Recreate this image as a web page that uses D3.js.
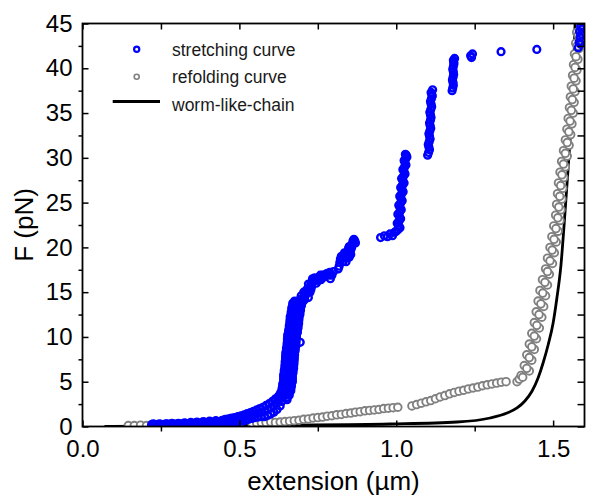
<!DOCTYPE html>
<html>
<head>
<meta charset="utf-8">
<script src="https://cdn.jsdelivr.net/npm/d3@7"></script>
<style>
  html, body { margin: 0; padding: 0; background: #fff; }
  svg { display: block; font-family: "Liberation Sans", Arial, sans-serif; }
</style>
</head>
<body>
<svg id="chart" width="589" height="500"></svg>
<script>
// ---------------- data (extension in µm, force in pN) ----------------
const xTickLabels = ["0.0", "0.5", "1.0", "1.5"];
const xMajorTicks = [0, 0.5, 1.0, 1.5];
const xMinorTicks = [0.25, 0.75, 1.25];
const yMajorTicks = [0, 5, 10, 15, 20, 25, 30, 35, 40, 45];
const yMinorTicks = [2.5, 7.5, 12.5, 17.5, 22.5, 27.5, 32.5, 37.5, 42.5];
const seriesNames = ["stretching curve", "refolding curve", "worm-like-chain"];

// worm-like-chain model curve
const wlcCurve = [
  [0.07, 0.0], [0.374, 0.08], [0.661, 0.15], [0.98, 0.28], [1.194, 0.5], [1.299, 0.95],
  [1.353, 1.5], [1.385, 2.07], [1.41, 2.85], [1.433, 3.96], [1.452, 5.41], [1.468, 7.09],
  [1.484, 9.1], [1.5, 11.56], [1.512, 14.35], [1.525, 18.03], [1.535, 22.5], [1.544, 26.96],
  [1.554, 32.0], [1.563, 37.6], [1.570, 45.0]
];

// refolding curve (grey open circles)
const refoldingCurve = [
  [0.146,0.1],[0.165,0.1],[0.185,0.15],[0.204,0.1],[0.223,0.15],[0.26,0.15],[0.30,0.2],[0.34,0.2],
  [0.38,0.25],[0.42,0.25],[0.46,0.3],[0.50,0.3],[0.54,0.35],[0.555,0.4],[0.57,0.45],[0.585,0.45],
  [0.60,0.5],[0.615,0.45],[0.63,0.5],[0.645,0.55],[0.66,0.6],[0.675,0.65],[0.69,0.7],[0.705,0.8],
  [0.72,0.85],[0.735,0.95],[0.75,1.0],[0.765,1.05],[0.78,1.15],[0.795,1.2],[0.81,1.3],[0.825,1.35],
  [0.84,1.45],[0.855,1.5],[0.87,1.6],[0.885,1.65],[0.90,1.75],[0.915,1.8],[0.93,1.85],[0.945,1.9],
  [0.96,2.0],[0.975,2.05],[0.99,2.1],[1.005,2.15],[1.05,2.3],[1.065,2.45],[1.08,2.6],[1.095,2.75],
  [1.11,2.9],[1.125,3.1],[1.14,3.3],[1.155,3.45],[1.17,3.65],[1.185,3.8],[1.20,3.95],[1.215,4.05],
  [1.23,4.2],[1.245,4.3],[1.26,4.4],[1.275,4.55],[1.29,4.65],[1.305,4.75],[1.32,4.85],[1.335,4.95],
  [1.35,5.0],[1.385,5.0],[1.392,5.3],[1.398,5.7],
  [1.403,5.5],[1.424,6.2],[1.408,6.8],[1.432,7.4],[1.416,8.0],[1.440,8.6],[1.424,9.2],[1.447,9.8],
  [1.432,10.4],[1.456,11.0],[1.440,11.6],[1.464,12.2],[1.446,12.8],[1.470,13.4],[1.452,14.0],
  [1.476,14.6],[1.458,15.2],[1.482,15.8],[1.466,16.4],[1.488,17.0],[1.476,17.6],[1.498,18.2],
  [1.482,18.8],[1.504,19.4],[1.490,20.0],[1.510,20.6],[1.496,21.2],[1.516,21.8],[1.502,22.4],
  [1.522,23.0],[1.508,23.6],[1.525,24.2],[1.511,24.8],[1.528,25.4],[1.514,26.0],[1.531,26.6],
  [1.517,27.2],[1.534,27.8],[1.522,28.4],[1.539,29.0],[1.527,29.6],[1.545,30.2],[1.533,30.8],
  [1.551,31.4],[1.539,32.0],[1.556,32.6],[1.544,33.2],[1.560,33.8],[1.548,34.4],[1.564,35.0],
  [1.552,35.6],[1.567,36.2],[1.555,36.8],[1.570,37.4],[1.558,38.0],[1.573,38.6],[1.562,39.2],
  [1.576,39.8],[1.565,40.4],[1.579,41.0],[1.568,41.6],[1.582,42.2],[1.572,42.8],[1.585,43.4],
  [1.575,44.0],[1.588,44.6],
  [1.416,6.5],[1.424,7.7],[1.432,8.9],[1.440,10.1],[1.448,11.3],[1.455,12.5],[1.461,13.7],
  [1.467,14.9],[1.474,16.1],[1.482,17.3],[1.490,18.5],[1.497,19.7],[1.503,20.9],[1.509,22.1],
  [1.515,23.3],[1.518,24.5],[1.521,25.7],[1.524,26.9],[1.528,28.1],[1.533,29.3],[1.539,30.5],
  [1.545,31.7],[1.550,32.9],[1.554,34.1],[1.558,35.3],[1.561,36.5],[1.564,37.7],[1.567,38.9],
  [1.570,40.1],[1.573,41.3],[1.577,42.5],[1.580,43.7]
];

// stretching curve (blue open circles)
const stretchingCurve = [
  // low-force tail
  [0.22,0.2],[0.23,0.25],[0.24,0.2],[0.25,0.25],[0.26,0.2],[0.27,0.3],[0.28,0.25],[0.29,0.3],
  [0.30,0.25],[0.31,0.3],[0.32,0.3],[0.33,0.35],[0.34,0.3],[0.35,0.35],[0.36,0.4],[0.37,0.35],
  [0.38,0.4],[0.39,0.45],[0.40,0.4],[0.41,0.5],[0.42,0.45],[0.43,0.55],[0.44,0.5],
  [0.225,0.3],[0.235,0.15],[0.245,0.3],[0.255,0.15],[0.265,0.3],[0.275,0.2],[0.285,0.35],
  [0.295,0.2],[0.305,0.35],[0.315,0.25],[0.325,0.4],[0.335,0.25],[0.345,0.45],[0.355,0.3],
  [0.365,0.5],[0.375,0.35],[0.385,0.55],[0.395,0.4],[0.405,0.6],[0.415,0.45],[0.425,0.65],
  [0.435,0.5],[0.445,0.7],
  [0.45,0.35],[0.46,0.4],[0.47,0.45],[0.48,0.45],[0.49,0.5],[0.50,0.55],[0.51,0.6],[0.52,0.7],
  [0.53,0.8],[0.54,0.9],[0.55,1.0],[0.56,1.05],[0.57,1.1],[0.58,1.1],[0.59,1.25],[0.60,1.4],
  [0.61,1.6],[0.62,1.9],[0.63,2.3],[0.635,2.8],
  [0.45,0.58],[0.46,0.62],[0.47,0.7],[0.48,0.72],[0.49,0.8],[0.50,0.88],[0.51,0.95],[0.52,1.08],
  [0.53,1.18],[0.54,1.3],[0.55,1.42],[0.56,1.52],[0.57,1.62],[0.58,1.72],[0.59,1.9],[0.60,2.1],
  [0.61,2.35],[0.62,2.65],
  [0.455,0.8],[0.465,0.85],[0.475,0.95],[0.485,1.0],[0.495,1.1],[0.505,1.2],[0.515,1.3],
  [0.525,1.45],[0.535,1.55],[0.545,1.7],[0.555,1.85],[0.565,2.0],[0.575,2.15],[0.585,2.35],
  [0.595,2.55],[0.605,2.8],[0.615,3.1],[0.625,3.4],
  // first steep rise
  [0.624,3.0],[0.652,3.0],[0.638,3.25],[0.631,3.5],[0.659,3.5],[0.645,3.75],
  [0.636,4.0],[0.664,4.0],[0.650,4.25],[0.638,4.5],[0.666,4.5],[0.652,4.75],
  [0.641,5.0],[0.669,5.0],[0.655,5.25],[0.641,5.5],[0.669,5.5],[0.655,5.75],
  [0.643,6.0],[0.671,6.0],[0.657,6.25],[0.645,6.5],[0.673,6.5],[0.659,6.75],
  [0.646,7.0],[0.674,7.0],[0.660,7.25],[0.647,7.5],[0.675,7.5],[0.661,7.75],
  [0.648,8.0],[0.676,8.0],[0.662,8.25],[0.650,8.5],[0.678,8.5],[0.664,8.75],
  [0.652,9.0],[0.680,9.0],[0.666,9.25],[0.653,9.5],[0.681,9.5],[0.667,9.75],
  [0.654,10.0],[0.682,10.0],[0.668,10.25],[0.657,10.5],[0.685,10.5],[0.671,10.75],
  [0.659,11.0],[0.687,11.0],[0.673,11.25],[0.661,11.5],[0.689,11.5],[0.675,11.75],
  [0.662,12.0],[0.690,12.0],[0.676,12.25],[0.665,12.5],[0.693,12.5],[0.679,12.75],
  [0.667,13.0],[0.695,13.0],[0.681,13.25],[0.670,13.5],[0.698,13.5],[0.684,13.75],
  [0.676,14.0],[0.704,14.0],[0.690,14.1],[0.694,9.4],
  [0.624,3.25],[0.652,3.25],[0.631,3.75],[0.659,3.75],[0.636,4.25],[0.664,4.25],
  [0.638,4.75],[0.666,4.75],[0.641,5.25],[0.669,5.25],[0.641,5.75],[0.669,5.75],
  [0.643,6.25],[0.671,6.25],[0.645,6.75],[0.673,6.75],[0.646,7.25],[0.674,7.25],
  [0.647,7.75],[0.675,7.75],[0.648,8.25],[0.676,8.25],[0.650,8.75],[0.678,8.75],
  [0.652,9.25],[0.680,9.25],[0.653,9.75],[0.681,9.75],[0.654,10.25],[0.682,10.25],
  [0.657,10.75],[0.685,10.75],[0.659,11.25],[0.687,11.25],[0.661,11.75],[0.689,11.75],
  [0.662,12.25],[0.690,12.25],[0.665,12.75],[0.693,12.75],[0.667,13.25],[0.695,13.25],
  [0.670,13.75],[0.698,13.75],
  // shoulder 14-21 pN
  [0.70,14.3],[0.71,14.6],[0.72,14.4],[0.705,15.0],[0.715,15.3],[0.725,15.0],[0.73,15.6],
  [0.72,15.9],[0.735,16.2],[0.745,16.0],[0.74,16.6],[0.755,16.7],[0.765,16.9],[0.775,17.0],
  [0.785,16.9],[0.79,16.5],[0.76,16.4],
  [0.697,14.6],[0.708,14.2],[0.712,14.9],[0.718,15.1],[0.722,15.5],[0.728,15.3],[0.728,16.0],
  [0.733,16.5],[0.742,16.3],[0.748,16.5],[0.752,16.3],[0.758,16.9],[0.762,16.6],[0.77,16.7],
  [0.78,17.1],[0.788,17.2],[0.795,16.9],[0.80,17.3],
  [0.815,17.6],[0.82,18.3],[0.825,19.0],[0.83,18.4],[0.835,19.4],[0.84,18.8],[0.845,19.6],
  [0.85,20.1],[0.855,19.7],[0.86,20.4],[0.865,20.9],[0.87,20.5],[0.855,19.2],[0.845,18.9],
  [0.818,17.9],[0.822,18.7],[0.828,18.8],[0.832,19.1],[0.838,19.1],[0.842,19.3],[0.848,19.9],
  [0.852,19.5],[0.858,20.0],[0.862,20.7],[0.868,20.7],[0.85,18.9],[0.84,18.4],
  // plateau ~21 pN
  [0.95,21.1],[0.962,21.3],[0.972,21.2],[0.98,21.5],[0.988,21.3],[0.995,21.7],
  // second rise 21-30 pN
  [1.0,21.8],[1.012,22.2],[1.003,22.7],[1.014,23.2],[1.005,23.7],[1.016,24.2],[1.008,24.7],
  [1.019,25.2],[1.011,25.7],[1.022,26.2],[1.014,26.7],[1.025,27.2],[1.017,27.7],[1.028,28.2],
  [1.021,28.7],[1.031,29.2],[1.025,29.7],[1.034,30.1],[1.029,30.4],
  [1.006,22.0],[1.008,22.45],[1.009,22.95],[1.010,23.45],[1.011,23.95],[1.012,24.45],
  [1.014,24.95],[1.015,25.45],[1.017,25.95],[1.018,26.45],[1.020,26.95],[1.021,27.45],
  [1.023,27.95],[1.025,28.45],[1.026,28.95],[1.028,29.45],[1.030,29.9],[1.032,30.3],
  // third rise 30-37.5 pN
  [1.100,30.3],[1.106,30.9],[1.102,31.5],[1.108,32.1],[1.104,32.7],[1.110,33.3],[1.106,33.9],
  [1.111,34.5],[1.107,35.1],[1.113,35.7],[1.109,36.3],[1.115,36.9],[1.111,37.3],[1.116,37.6],
  [1.103,30.6],[1.104,31.2],[1.105,31.8],[1.106,32.4],[1.107,33.0],[1.108,33.6],[1.109,34.2],
  [1.109,34.8],[1.110,35.4],[1.111,36.0],[1.112,36.6],[1.113,37.1],
  // fourth rise 37.5-41 pN
  [1.178,37.5],[1.182,38.1],[1.179,38.7],[1.183,39.3],[1.18,39.9],[1.184,40.5],[1.182,40.9],
  [1.186,41.1],[1.180,37.8],[1.181,38.4],[1.181,39.0],[1.182,39.6],[1.182,40.2],[1.183,40.7],
  // plateau ~42 pN
  [1.237,41.4],[1.243,41.6],[1.24,41.2],[1.334,41.85],[1.448,42.1],
  [1.580,42.3],[1.583,42.9],[1.586,43.5],[1.584,44.1],[1.588,44.7],[1.591,45.3],[1.59,43.8],
  [1.592,44.4],[1.587,42.7]
];

// ---------------- chart ----------------
const plot = { left: 82.5, right: 584.5, top: 23.5, bottom: 426.5 };
const BLUE = "#0000ff", GREY = "#808080";

const svg = d3.select("#chart");
const x = d3.scaleLinear().domain([0, 1.6]).range([plot.left, plot.right]);
const y = d3.scaleLinear().domain([0, 45]).range([plot.bottom, plot.top]);

svg.append("defs").append("clipPath").attr("id", "clip")
  .append("rect")
  .attr("x", plot.left).attr("y", plot.top)
  .attr("width", plot.right - plot.left).attr("height", plot.bottom - plot.top);

const g = svg.append("g").attr("clip-path", "url(#clip)");

// WLC line
g.append("path")
  .datum(wlcCurve)
  .attr("fill", "none")
  .attr("stroke", "#000")
  .attr("stroke-width", 2.8)
  .attr("d", d3.line().x(d => x(d[0])).y(d => y(d[1])).curve(d3.curveMonotoneX));

// refolding circles
g.append("g").selectAll("circle").data(refoldingCurve).join("circle")
  .attr("cx", d => x(d[0])).attr("cy", d => y(d[1]))
  .attr("r", 3.8)
  .attr("fill", "#fff")
  .attr("stroke", GREY)
  .attr("stroke-width", 1.9);

// stretching circles
g.append("g").selectAll("circle").data(stretchingCurve).join("circle")
  .attr("cx", d => x(d[0])).attr("cy", d => y(d[1]))
  .attr("r", 3.4)
  .attr("fill", "none")
  .attr("stroke", BLUE)
  .attr("stroke-width", 2.4);

// ---------------- axes ----------------
const tickFont = 24;
function styleAxis(sel) {
  sel.select(".domain").remove();
  sel.selectAll("line").attr("stroke", "#000").attr("stroke-width", 1.5);
  sel.selectAll("text").attr("fill", "#000").style("font-size", tickFont + "px")
    .style("font-family", '"Liberation Sans", Arial, sans-serif');
}

// bottom: major inward with labels, minor outward
svg.append("g").attr("transform", `translate(0,${plot.bottom})`)
  .call(d3.axisBottom(x).tickValues(xMajorTicks)
    .tickFormat((d, i) => xTickLabels[i]).tickSizeInner(-6).tickSizeOuter(0).tickPadding(13.5))
  .call(styleAxis);
svg.append("g").attr("transform", `translate(0,${plot.bottom})`)
  .call(d3.axisBottom(x).tickValues(xMinorTicks).tickFormat("").tickSizeInner(5).tickSizeOuter(0))
  .call(styleAxis);

// left: major inward with labels, minor outward
svg.append("g").attr("transform", `translate(${plot.left},0)`)
  .call(d3.axisLeft(y).tickValues(yMajorTicks).tickFormat(d3.format("d"))
    .tickSizeInner(-6).tickSizeOuter(0).tickPadding(10))
  .call(styleAxis);
svg.append("g").attr("transform", `translate(${plot.left},0)`)
  .call(d3.axisLeft(y).tickValues(yMinorTicks).tickFormat("").tickSizeInner(4).tickSizeOuter(0))
  .call(styleAxis);

// top: all ticks inward
svg.append("g").attr("transform", `translate(0,${plot.top})`)
  .call(d3.axisTop(x).tickValues(xMajorTicks.concat(xMinorTicks)).tickFormat("")
    .tickSizeInner(-6).tickSizeOuter(0))
  .call(styleAxis);

// right: all ticks inward
svg.append("g").attr("transform", `translate(${plot.right},0)`)
  .call(d3.axisRight(y).tickValues(yMajorTicks.concat(yMinorTicks)).tickFormat("")
    .tickSizeInner(-7).tickSizeOuter(0))
  .call(styleAxis);

// frame
svg.append("rect")
  .attr("x", plot.left).attr("y", plot.top)
  .attr("width", plot.right - plot.left).attr("height", plot.bottom - plot.top)
  .attr("fill", "none").attr("stroke", "#000").attr("stroke-width", 1.8);

// axis titles
svg.append("text")
  .attr("x", (plot.left + plot.right) / 2).attr("y", 490)
  .attr("text-anchor", "middle")
  .style("font-size", "26px").attr("fill", "#000")
  .text("extension (µm)");

svg.append("text")
  .attr("transform", `translate(33,${(plot.top + plot.bottom) / 2}) rotate(-90)`)
  .attr("text-anchor", "middle")
  .style("font-size", "26px").attr("fill", "#000")
  .text("F (pN)");

// ---------------- legend ----------------
const legend = svg.append("g");
const legendRows = [56, 83.3, 110.7];
legend.append("circle").attr("cx", 136.7).attr("cy", 49.3).attr("r", 2.6)
  .attr("fill", "none").attr("stroke", BLUE).attr("stroke-width", 2.2);
legend.append("circle").attr("cx", 136.7).attr("cy", 76.7).attr("r", 2.5)
  .attr("fill", "#fff").attr("stroke", GREY).attr("stroke-width", 1.6);
legend.append("line").attr("x1", 112.7).attr("x2", 160).attr("y1", 101.5).attr("y2", 101.5)
  .attr("stroke", "#000").attr("stroke-width", 3);
seriesNames.forEach((name, i) => {
  legend.append("text")
    .attr("x", 172).attr("y", legendRows[i])
    .style("font-size", "17.5px").attr("fill", "#1a1a1a")
    .text(name);
});
</script>
</body>
</html>
